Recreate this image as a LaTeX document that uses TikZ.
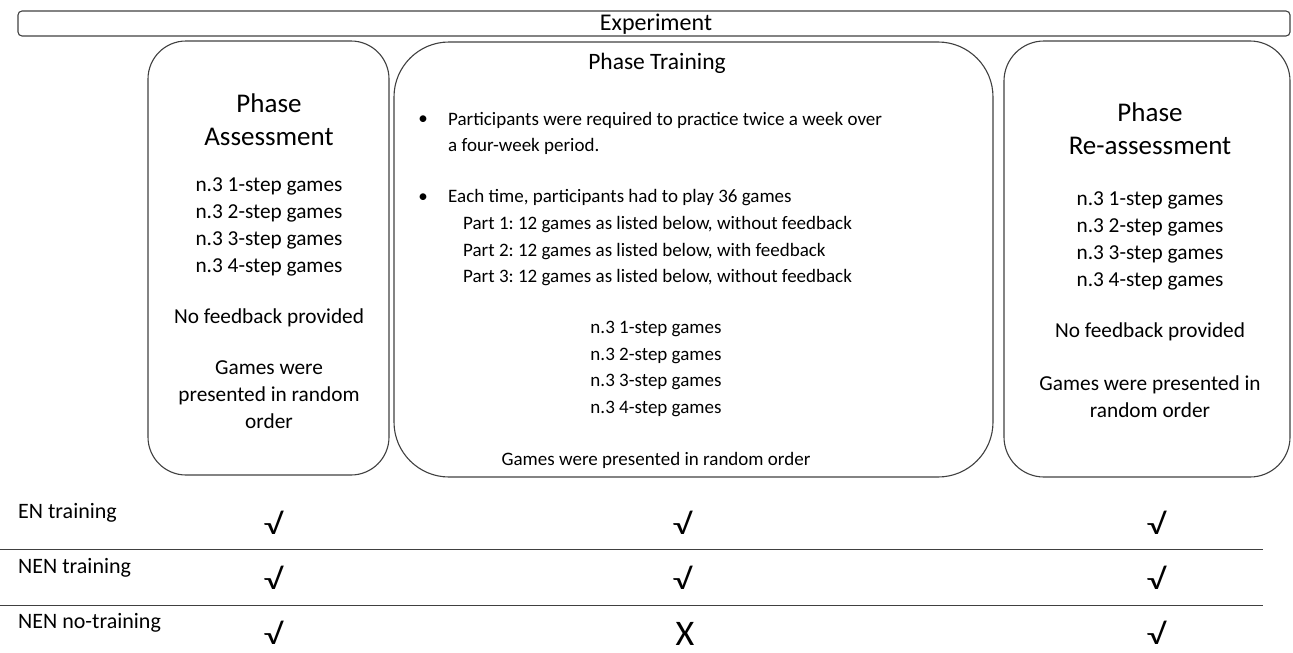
\documentclass[tikz,border=0pt]{standalone}
\usepackage{fontspec}
\setmainfont{Carlito}
\frenchspacing
\begin{document}
\begin{tikzpicture}[x=1pt,y=-1pt,
  box/.style={draw=black!75,line width=1.1pt,rectangle,inner sep=0pt},
  sbody/.style={font=\fontsize{21.3}{27}\selectfont,align=center,text=black,inner sep=0pt},
  tbody/.style={font=\fontsize{19}{26.5}\selectfont,align=center,text=black,inner sep=0pt},
  tbodyl/.style={font=\fontsize{19}{26.5}\selectfont,align=left,text=black,inner sep=0pt,anchor=west},
  shead/.style={font=\fontsize{27}{33}\selectfont,align=center,text=black,inner sep=0pt},
  thead/.style={font=\fontsize{23.5}{30}\selectfont,align=center,text=black,inner sep=0pt},
  rowlab/.style={font=\fontsize{22}{24}\selectfont,text=black,inner sep=0pt,anchor=west},
  checkmk/.style={font=\fontsize{29}{31}\selectfont,text=black,inner sep=0pt},
  crossmk/.style={font=\fontsize{36}{38}\selectfont,text=black,inner sep=0pt},
  rule/.style={draw=black!75,line width=1pt}]
\useasboundingbox (0,0) rectangle (1293,653);
% boxes
\node[box,rounded corners=4pt,minimum width=1272pt,minimum height=25pt] (exp) at (654,23.5) {};
\node[sbody,font=\fontsize{24}{26}\selectfont] (explab) at (656,24) {Experiment};
\node[box,rounded corners=38pt,minimum width=241pt,minimum height=434pt] (assess) at (268.5,258) {};
\node[box,rounded corners=55pt,minimum width=599pt,minimum height=435pt] (train) at (693.5,259.5) {};
\node[box,rounded corners=40pt,minimum width=286pt,minimum height=436pt] (reass) at (1147,259) {};
% assessment text
\node[shead] (atitle) at (269,119.5) {Phase\\Assessment};
\node[sbody] (alist) at (269,226.5) {n.3 1-step games\\n.3 2-step games\\n.3 3-step games\\n.3 4-step games};
\node[sbody] (afb) at (269,318) {No feedback provided};
\node[sbody] (aord) at (269,395) {Games were\\presented in random\\order};
% training text
\node[thead] (ttitle) at (657,63) {Phase Training};
\node[tbody] (tb1) at (423,120) {\textbullet};
\node[tbodyl] (tt1) at (448,133.5) {Participants were required to practice twice a week over\\a four-week period.};
\node[tbody] (tb2) at (423,198) {\textbullet};
\node[tbodyl] (tt2) at (448,198) {Each time, participants had to play 36 games};
\node[tbodyl] (tparts) at (463,251.5) {Part 1: 12 games as listed below, without feedback\\Part 2: 12 games as listed below, with feedback\\Part 3: 12 games as listed below, without feedback};
\node[tbody] (tlist) at (656,369) {n.3 1-step games\\n.3 2-step games\\n.3 3-step games\\n.3 4-step games};
\node[tbody] (tord) at (656,460) {Games were presented in random order};
% re-assessment text
\node[shead] (rtitle) at (1150,129) {Phase\\Re-assessment};
\node[sbody] (rlist) at (1150,240.5) {n.3 1-step games\\n.3 2-step games\\n.3 3-step games\\n.3 4-step games};
\node[sbody] (rfb) at (1150,332) {No feedback provided};
\node[sbody] (rord) at (1150,397) {Games were presented in\\random order};
% table
\node[rowlab] (r1) at (18,513) {EN training};
\node[rowlab] (r2) at (18,568) {NEN training};
\node[rowlab] (r3) at (18,623) {NEN no-training};
\coordinate (l1a) at (0,549); \coordinate (l1b) at (1263,549);
\coordinate (l2a) at (0,605); \coordinate (l2b) at (1263,605);
\draw[rule] (l1a) -- (l1b);
\draw[rule] (l2a) -- (l2b);
\node[checkmk] (m11) at (273,523) {\scalebox{1.3}[1]{√}};
\node[checkmk] (m12) at (682,523) {\scalebox{1.3}[1]{√}};
\node[checkmk] (m13) at (1156,523) {\scalebox{1.3}[1]{√}};
\node[checkmk] (m21) at (273,578) {\scalebox{1.3}[1]{√}};
\node[checkmk] (m22) at (682,578) {\scalebox{1.3}[1]{√}};
\node[checkmk] (m23) at (1156,578) {\scalebox{1.3}[1]{√}};
\node[checkmk] (m31) at (273,633) {\scalebox{1.3}[1]{√}};
\node[crossmk] (m32) at (685,634) {X};
\node[checkmk] (m33) at (1156,633) {\scalebox{1.3}[1]{√}};
\end{tikzpicture}
\end{document}
